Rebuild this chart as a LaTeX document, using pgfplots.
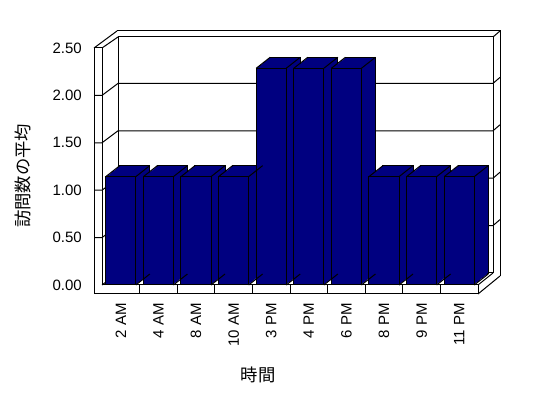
\documentclass[border=0pt]{standalone}
\usepackage{pgfplots}
\pgfplotsset{compat=1.18}
\usepackage{pgfplotstable}
\usepackage{fontspec}
\setmainfont{Liberation Sans}
\newfontfamily\jp{Noto Sans CJK JP}
\definecolor{barnavy}{RGB}{0,0,128}

\pgfplotstableread{
x y
0.5 1.143
1.5 1.143
2.5 1.143
3.5 1.143
4.5 2.286
5.5 2.286
6.5 2.286
7.5 1.143
8.5 1.143
9.5 1.143
}\visits

\pgfdeclareplotmark{depthedge}{\pgfpathmoveto{\pgfpointorigin}\pgfpathlineto{\pgfpoint{10.5pt}{8.25pt}}\pgfusepathqstroke}

\begin{document}
\begin{tikzpicture}
\fill[white, use as bounding box] (-76.5pt,-84.75pt) rectangle (334.5pt,213.75pt);
% walls and floor, drawn in pixel units of the reference
\begin{scope}[x=0.75pt, y=-0.75pt, shift={(-76.5pt,213.75pt)}, line width=0.75pt]
  % back wall outer
  \draw (117,31) -- (500,31) -- (500,276);
  \draw (493,37) -- (500,31);
  % back wall inner face
  \draw (118,273) -- (118,37) -- (493,37) -- (493,273) -- cycle;
  % left wall
  \draw (94,294) -- (94,48) -- (102,48) -- (102,285);
  \draw (94,48) -- (117,31);
  \draw (102,48) -- (118,37);
  \draw (102,285) -- (118,273);
  % floor
  \draw (94,294) -- (478,294) -- (478,285) -- (102,285);
  \draw (478,285) -- (493,273);
  \draw (478,294) -- (500,276);
  \foreach \k in {1,...,9} { \draw ({102+37.6*\k},285) -- ({102+37.6*\k},294); }
  % grid lines
  \foreach \v in {0.5,1,1.5,2} {
    \draw (94,{285-94.8*\v}) -- (102,{285-94.8*\v}) -- (118,{273-94.8*\v}) -- (493,{273-94.8*\v}) -- (500,{267-94.8*\v});
  }
\end{scope}
\begin{axis}[
  at={(0,0)}, anchor=south west,
  scale only axis, width=282pt, height=177.75pt,
  xmin=0, xmax=10, ymin=0, ymax=2.5,
  clip=false,
  axis line style={draw=none},
  tick style={draw=none},
  xtick={0.5,1.5,2.5,3.5,4.5,5.5,6.5,7.5,8.5,9.5},
  xticklabels={2 AM,4 AM,8 AM,10 AM,3 PM,4 PM,6 PM,8 PM,9 PM,11 PM},
  xticklabel style={rotate=90, anchor=east, inner sep=0pt, font=\fontsize{11.25pt}{13pt}\selectfont},
  xticklabel shift=13.5pt,
  ytick={0,0.5,1,1.5,2,2.5},
  /pgf/number format/assume math mode=true,
  yticklabel style={/pgf/number format/fixed, /pgf/number format/fixed zerofill, /pgf/number format/precision=2, anchor=east, inner sep=0pt, font=\fontsize{11.25pt}{13pt}\selectfont},
  yticklabel shift=15pt,
  xlabel={\jp 時間},
  ylabel={\jp 訪問数の平均},
  every axis x label/.style={at={(rel axis cs:0.5,0)}, xshift=-24pt, yshift=-67.5pt, anchor=center, font=\fontsize{13pt}{15pt}\selectfont},
  every axis y label/.style={at={(rel axis cs:0,0.5)}, xshift=-59.25pt, yshift=-7pt, rotate=90, anchor=center, font=\fontsize{13pt}{15pt}\selectfont},
]
% back faces of the bars
\addplot[ybar, bar width=0.8, bar shift=0pt, fill=barnavy, draw=black, line width=0.75pt, xshift=10.5pt, yshift=8.25pt] table {\visits};
% depth of the bars
\pgfplotsinvokeforeach{1,...,13}{
  \addplot[ybar, bar width=0.8, bar shift=0pt, fill=barnavy, draw=none, xshift=#1*0.75pt, yshift=#1*0.5893pt] table {\visits};
}
% depth edges
\addplot[only marks, mark=depthedge, mark options={draw=black, line width=0.75pt}] table[x expr=\thisrow{x}-0.4, y=y] {\visits};
\addplot[only marks, mark=depthedge, mark options={draw=black, line width=0.75pt}] table[x expr=\thisrow{x}+0.4, y=y] {\visits};
\addplot[only marks, mark=depthedge, mark options={draw=black, line width=0.75pt}] table[x expr=\thisrow{x}+0.4, y expr=0] {\visits};
% front faces of the bars
\addplot[ybar, bar width=0.8, bar shift=0pt, fill=barnavy, draw=black, line width=0.75pt] table {\visits};
\end{axis}
\end{tikzpicture}
\end{document}
